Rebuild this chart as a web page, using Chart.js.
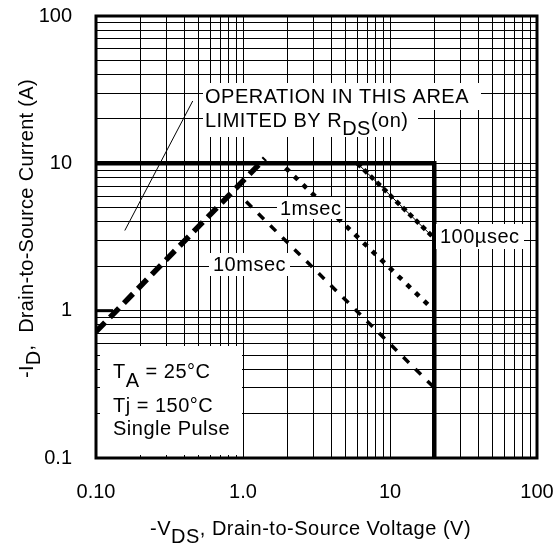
<!DOCTYPE html>
<html>
<head>
<meta charset="utf-8">
<script src="https://cdn.jsdelivr.net/npm/chart.js@4.4.1/dist/chart.umd.min.js"></script>
<style>
  html, body { margin: 0; padding: 0; background: #fff; }
</style>
</head>
<body>
<canvas id="soaChart" width="560" height="546"></canvas>
<script>
// axis ticks
const xMajor = [0.1, 1, 10, 100];
const xTickLabels = ["0.10", "1.0", "10", "100"];
const yMajor = [0.1, 1, 10, 100];
const yTickLabels = ["0.1", "1", "10", "100"];

// curves (V, A)
const limitV = [0.1, 20, 20];
const limitI = [10, 10, 0.1];
const rdsV = [0.1, 1.41];
const rdsI = [0.72, 10.8];
const us100V = [6.0, 20];
const us100I = [10.0, 3.1];
const ms1V = [1.95, 20];
const ms1I = [9.3, 1.0];
const ms10V = [1.05, 20];
const ms10I = [5.5, 0.30];
const leaderV = [0.157, 0.455];
const leaderI = [3.5, 26.5];

const FONT = '"Liberation Sans", Arial, Helvetica, sans-serif';

function pts(xs, ys) {
  return xs.map((x, i) => ({ x: x, y: ys[i] }));
}

// every 1..9 x 10^n between the majors, for the grid
function decadeTicks(majors) {
  const out = [];
  for (let i = 0; i < majors.length - 1; i++) {
    for (let k = 1; k < 10; k++) out.push({ value: majors[i] * k });
  }
  out.push({ value: majors[majors.length - 1] });
  return out;
}

function labelFor(majors, labels, value) {
  const k = majors.findIndex((m) => Math.abs(m - value) / m < 1e-6);
  return k >= 0 ? labels[k] : "";
}

// draws text with subscripts: runs = [[text, dy], ...]
function drawRuns(ctx, x, y, runs) {
  let cx = x;
  runs.forEach(([t, dy]) => {
    ctx.fillText(t, cx, y + (dy || 0));
    cx += ctx.measureText(t).width;
  });
}

const paperPlugin = {
  id: "paper",
  beforeDatasetsDraw(chart) {
    const ctx = chart.ctx;
    const a = chart.chartArea;
    ctx.save();

    // heavy frame
    ctx.strokeStyle = "#000";
    ctx.lineWidth = 3;
    ctx.strokeRect(a.left, a.top, a.right - a.left, a.bottom - a.top);

    // heavy major ticks on the left edge
    const ys = chart.scales.y;
    [1, 10].forEach((v) => {
      const p = ys.getPixelForValue(v);
      ctx.beginPath();
      ctx.moveTo(a.left, p);
      ctx.lineTo(a.left + 17, p);
      ctx.stroke();
    });
    ctx.restore();
  },
  afterDatasetsDraw(chart) {
    const ctx = chart.ctx;
    ctx.save();

    // white label backgrounds
    ctx.fillStyle = "#fff";
    [
      [203, 83, 481, 110],
      [203, 110, 418, 137],
      [277, 197, 345, 219],
      [209, 253, 290, 276],
      [436, 224, 524, 249],
      [100, 346, 242, 455],
    ].forEach((b) => ctx.fillRect(b[0], b[1], b[2] - b[0], b[3] - b[1]));

    ctx.fillStyle = "#000";
    ctx.font = "20px " + FONT;
    ctx.textBaseline = "alphabetic";
    ctx.textAlign = "left";
    ctx.letterSpacing = "0.5px";

    ctx.fillText("OPERATION IN THIS AREA", 205, 103);
    drawRuns(ctx, 205, 127, [["LIMITED BY R"], ["DS", 8], ["(on)"]]);
    ctx.fillText("1msec", 280, 215);
    ctx.fillText("10msec", 213, 271);
    ctx.fillText("100\u00b5sec", 440, 243);

    drawRuns(ctx, 113, 378, [["T"], ["A", 9], [" = 25\u00b0C"]]);
    ctx.fillText("Tj = 150\u00b0C", 113, 412);
    ctx.fillText("Single Pulse", 113, 435);

    // axis titles
    drawRuns(ctx, 150, 535, [["-V"], ["DS", 8], [", Drain-to-Source Voltage (V)"]]);

    ctx.letterSpacing = "0.3px";
    ctx.translate(33, 378);
    ctx.rotate(-Math.PI / 2);
    drawRuns(ctx, 0, 0, [["-I"], ["D", 7], [",  Drain-to-Source Current (A)"]]);

    ctx.restore();
  },
};

const line = (data, width, dash) => ({
  data: data,
  borderColor: "#000",
  borderWidth: width,
  borderDash: dash,
  borderCapStyle: "butt",
  pointRadius: 0,
  fill: false,
  tension: 0,
});

new Chart(document.getElementById("soaChart"), {
  type: "line",
  data: {
    datasets: [
      line(pts(leaderV, leaderI), 1, []),
      line(pts(limitV, limitI), 4.5, []),
      line(pts(rdsV, rdsI), 5.5, [13, 7]),
      line(pts(us100V, us100I), 1, []),
      line(pts(us100V, us100I), 4.5, [5, 4]),
      line(pts(ms1V, ms1I), 4.5, [5, 7]),
      line(pts(ms10V, ms10I), 3.5, [8, 9]),
    ],
  },
  options: {
    responsive: false,
    animation: false,
    devicePixelRatio: 1,
    layout: { padding: { left: 0, top: 16, right: 23, bottom: 0 } },
    plugins: { legend: { display: false }, tooltip: { enabled: false } },
    scales: {
      x: {
        type: "logarithmic",
        position: "bottom",
        min: 0.1,
        max: 100,
        afterBuildTicks: (s) => { s.ticks = decadeTicks(xMajor); },
        afterFit: (s) => {
          s.height = 88;
          s.paddingLeft = 0;
          s.paddingRight = 0;
        },
        grid: { color: "#000", lineWidth: 1, drawTicks: false },
        border: { display: false },
        ticks: {
          autoSkip: false,
          maxRotation: 0,
          padding: 22,
          color: "#000",
          font: { family: FONT, size: 20 },
          callback: (v) => labelFor(xMajor, xTickLabels, v),
        },
      },
      y: {
        type: "logarithmic",
        position: "left",
        min: 0.1,
        max: 100,
        afterBuildTicks: (s) => { s.ticks = decadeTicks(yMajor); },
        afterFit: (s) => {
          s.width = 96;
          s.paddingTop = 0;
          s.paddingBottom = 0;
        },
        grid: { color: "#000", lineWidth: 1, drawTicks: false },
        border: { display: false },
        ticks: {
          autoSkip: false,
          padding: 24,
          color: "#000",
          font: { family: FONT, size: 20 },
          callback: (v) => labelFor(yMajor, yTickLabels, v),
        },
      },
    },
  },
  plugins: [paperPlugin],
});
</script>
</body>
</html>
